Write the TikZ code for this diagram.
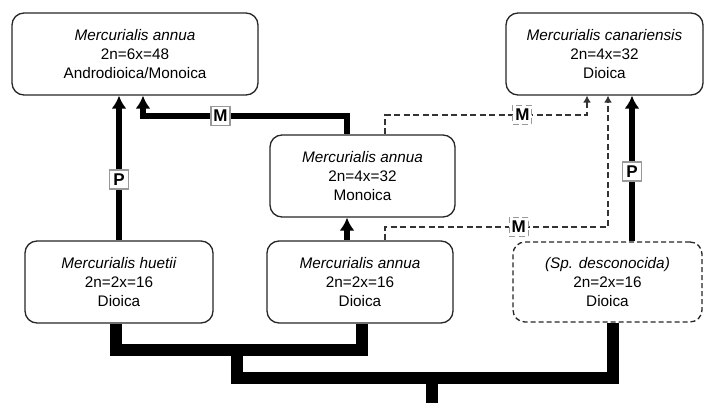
\documentclass[tikz,border=0pt]{standalone}
\usepackage{fontspec}
\setmainfont{Liberation Sans}
\usetikzlibrary{arrows.meta}

\begin{document}
\begin{tikzpicture}[
        x=1pt, y=-1pt,
        font=\fontsize{15.3}{19}\selectfont,
        species/.style={rectangle, rounded corners=12pt, draw=black!85, line width=1.3pt, fill=white, text centered, align=center, minimum height=82pt, inner sep=0pt},
        unknownsp/.style={species, dash pattern=on 5pt off 3pt},
        tag/.style={rectangle, draw=black!40, line width=1.2pt, fill=white, minimum size=19pt, inner sep=0pt, font=\fontsize{17}{17}\selectfont\bfseries},
        thickarrow/.style={-{Latex[length=13pt, width=15pt]}, line width=5.5pt, line join=miter},
        dasharrow/.style={-{Latex[length=7pt, width=8pt]}, draw=black!80, line width=1.3pt, dash pattern=on 6pt off 3.5pt},
        tree/.style={line width=12pt, line join=miter}
    ]
        \useasboundingbox (0,0) rectangle (705,403);

        % Nodes
        \node[species, minimum width=246pt] (hexa) at (135,54) {\textit{Mercurialis annua}\\2n=6x=48\\Androdioica/Monoica};
        \node[species, minimum width=197pt] (canar) at (604.5,54) {\textit{Mercurialis canariensis}\\2n=4x=32\\Dioica};
        \node[species, minimum width=185pt] (tetra) at (362.5,176) {\textit{Mercurialis annua}\\2n=4x=32\\Monoica};
        \node[species, minimum width=188pt] (huetii) at (119,282) {\textit{Mercurialis huetii}\\2n=2x=16\\Dioica};
        \node[species, minimum width=186pt] (diploid) at (360,282) {\textit{Mercurialis annua}\\2n=2x=16\\Dioica};
        \node[unknownsp, minimum width=189pt, minimum height=80pt] (unknown) at (607.5,282) {\textit{(Sp. desconocida)}\\2n=2x=16\\Dioica};

        % Junctions
        \coordinate (mbend) at (143,116);
        \coordinate (dbend1) at (587,115);
        \coordinate (dbend2) at (608,227);
        \coordinate (split1) at (237,350);
        \coordinate (split2) at (432,378);
        \coordinate (root) at (432,403);

        % Arrows
        \draw[thickarrow] (huetii.north) -- (huetii.north |- hexa.south) node[tag, pos=0.42] {P};
        \draw[thickarrow] ([xshift=-15.5pt]tetra.north) |- (mbend) node[tag, pos=0.81] {M} -- (mbend |- hexa.south);
        \draw[thickarrow] ([xshift=-13pt]diploid.north) -- ([xshift=-13pt]diploid.north |- tetra.south);
        \draw[thickarrow] ([xshift=24.5pt]unknown.north) -- ([xshift=24.5pt]unknown.north |- canar.south) node[tag, pos=0.48] {P};
        \draw[dasharrow] ([xshift=22.5pt]tetra.north) |- (dbend1) node[tag, pos=0.84] {M} -- (dbend1 |- canar.south);
        \draw[dasharrow] ([xshift=25pt]diploid.north) |- (dbend2) node[tag, pos=0.80] {M} -- (dbend2 |- canar.south);

        % Tree
        \draw[tree] ([xshift=-3pt]huetii.south) |- (split1) -| ([xshift=2pt]diploid.south);
        \draw[tree] (split1) |- (split2) -| ([xshift=5.5pt]unknown.south);
        \draw[tree] (split2) -- (root);
    \end{tikzpicture}
\end{document}
